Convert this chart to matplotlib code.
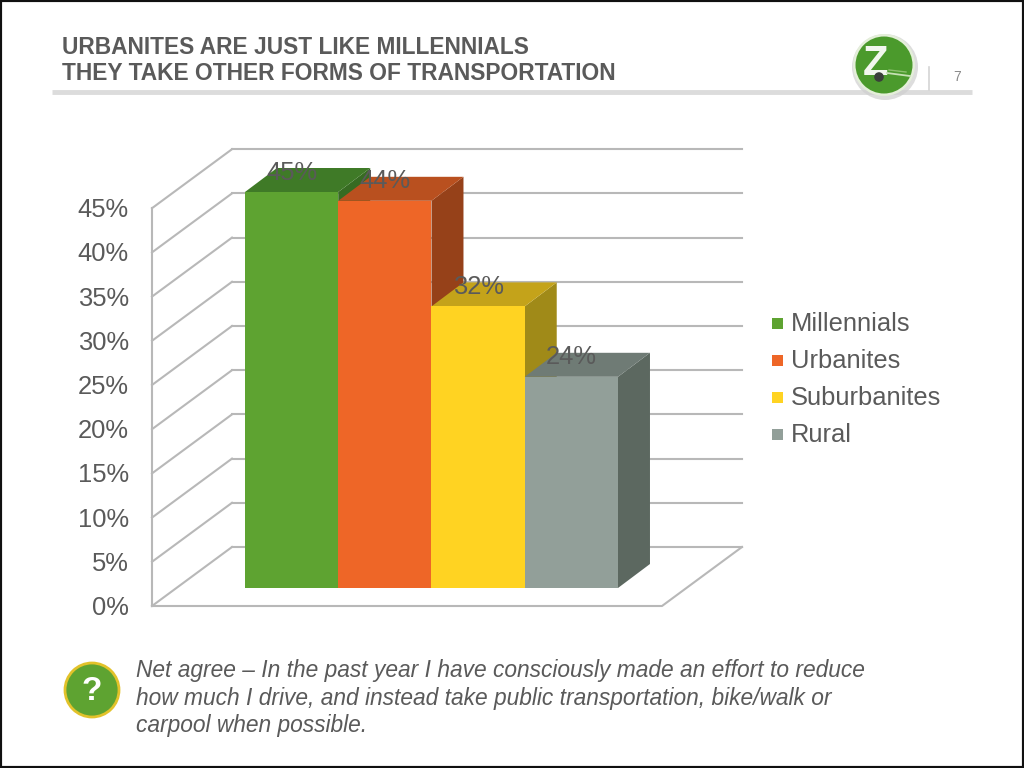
import matplotlib
matplotlib.use("Agg")
import matplotlib.pyplot as plt
from matplotlib.patches import Circle, Polygon, Rectangle

plt.rcParams['font.family'] = ['Liberation Sans', 'DejaVu Sans']

# Data
categories = ["Millennials", "Urbanites", "Suburbanites", "Rural"]
values = [45, 44, 32, 24]
tick_values = [0, 5, 10, 15, 20, 25, 30, 35, 40, 45]
front_colors = ["#5ea331", "#ee6627", "#ffd322", "#929f99"]
top_colors = ["#3f7a27", "#b9501f", "#c4a31a", "#6f7b75"]
side_colors = ["#376b22", "#964119", "#a08a18", "#5c6860"]

title_lines = ["URBANITES ARE JUST LIKE MILLENNIALS", "THEY TAKE OTHER FORMS OF TRANSPORTATION"]
note_lines = ["Net agree \u2013 In the past year I have consciously made an effort to reduce",
              "how much I drive, and instead take public transportation, bike/walk or",
              "carpool when possible."]

TEXT = "#5a5a5a"
GRID = "#b8b8b8"
PX_PER_PCT = 8.8
WALL_PX_PER_PCT = 8.84
BAR_W = 93.25

fig = plt.figure(figsize=(10.24, 7.68), dpi=100, facecolor="white")

# page layer in pixel coordinates
page = fig.add_axes([0, 0, 1, 1])
page.set_xlim(0, 1024)
page.set_ylim(768, 0)
page.axis("off")

# chart layer: x in bar units, y in percent, 0% on the bars' base line
ax = fig.add_axes([0, 0, 1, 1])
ax.patch.set_alpha(0)
ax.set_xlim(-291.6 / BAR_W, (1024 - 291.6) / BAR_W)
ax.set_ylim((588 - 768) / PX_PER_PCT, 588 / PX_PER_PCT)
ax.axis("off")

# walls and gridlines
depth_x, depth_y = 80, 59
front_y0 = 606
for t in tick_values:
    y = front_y0 - t * WALL_PX_PER_PCT
    page.plot([152, 152 + depth_x], [y, y - depth_y], color=GRID, lw=1.5)
    page.plot([152 + depth_x, 742], [y - depth_y, y - depth_y], color=GRID, lw=1.5)
    page.text(129, y + 2, f"{t}%", ha="right", va="center", fontsize=18.4, color=TEXT)
page.plot([152, 152], [front_y0, front_y0 - 45 * WALL_PX_PER_PCT], color=GRID, lw=1.5)
page.plot([152, 662, 742], [front_y0, front_y0, front_y0 - depth_y], color=GRID, lw=1.5)

# 3D bars
dx = 32 / BAR_W
dy = 24 / PX_PER_PCT
for i, v in enumerate(values):
    left, right = i - 0.5, i + 0.5
    ax.add_patch(Polygon([(right, 0), (right + dx, dy), (right + dx, v + dy), (right, v)],
                         facecolor=side_colors[i], edgecolor="none", zorder=2 + i))
    ax.add_patch(Polygon([(left, v), (left + dx, v + dy), (right + dx, v + dy), (right, v)],
                         facecolor=top_colors[i], edgecolor="none", zorder=2 + i))
    ax.bar(i, v, width=1, color=front_colors[i], zorder=2 + i)
for i, v in enumerate(values):
    ax.text(i, v + 2.2, f"{v}%", ha="center", va="center", fontsize=18.4, color=TEXT, zorder=10)

# legend
for i, name in enumerate(categories):
    y = 323 + i * 37
    page.add_patch(Rectangle((772, y - 5.5), 11, 11, facecolor=front_colors[i], edgecolor="none"))
    page.text(791, y + 1, name, ha="left", va="center", fontsize=18.4, color=TEXT)

# title and header rule
for i, line in enumerate(title_lines):
    page.text(62, 47 + i * 27, line, ha="left", va="center", fontsize=16.35, fontweight="bold", color=TEXT)
page.plot([52, 972], [92, 92], color="#dcdcdc", lw=3.5, solid_capstyle="butt")
page.plot([929, 929], [67, 90], color="#d4d4d4", lw=1.2)
page.text(957, 77, "7", ha="center", va="center", fontsize=10, color="#8a8a8a")

# Zipcar style logo
page.add_patch(Circle((885, 67), 33, facecolor="#cfcfcf", edgecolor="none", alpha=0.7, zorder=5))
page.add_patch(Circle((884, 65), 31, facecolor="#e4efd9", edgecolor="none", zorder=5))
page.add_patch(Circle((884, 65), 28.5, facecolor="#4b9a2c", edgecolor="none", zorder=5))
page.text(876, 64, "Z", ha="center", va="center", fontsize=30, fontweight="bold",
          color="#f2f7ee", zorder=6)
page.plot([887, 910], [73, 76], color="#c5e0b3", lw=1.3, zorder=6)
page.plot([889, 906], [70, 72], color="#8dc06f", lw=1, zorder=6)
page.add_patch(Circle((879, 77), 4.8, facecolor="#3a3f3a", edgecolor="none", zorder=7))

# question badge and note
page.add_patch(Circle((92, 690), 27, facecolor="#5ea331", edgecolor="#e2c22a", lw=2, zorder=5))
page.text(92, 692, "?", ha="center", va="center", fontsize=24, fontweight="bold", color="white", zorder=6)
for i, line in enumerate(note_lines):
    page.text(136, 670.5 + i * 27.5, line, ha="left", va="center", fontsize=16.35, style="italic", color=TEXT)

# dark slide edge
page.add_patch(Rectangle((0, 0), 1024, 768, fill=False, edgecolor="#111111", lw=3))

fig.savefig("out.png", dpi=100)
